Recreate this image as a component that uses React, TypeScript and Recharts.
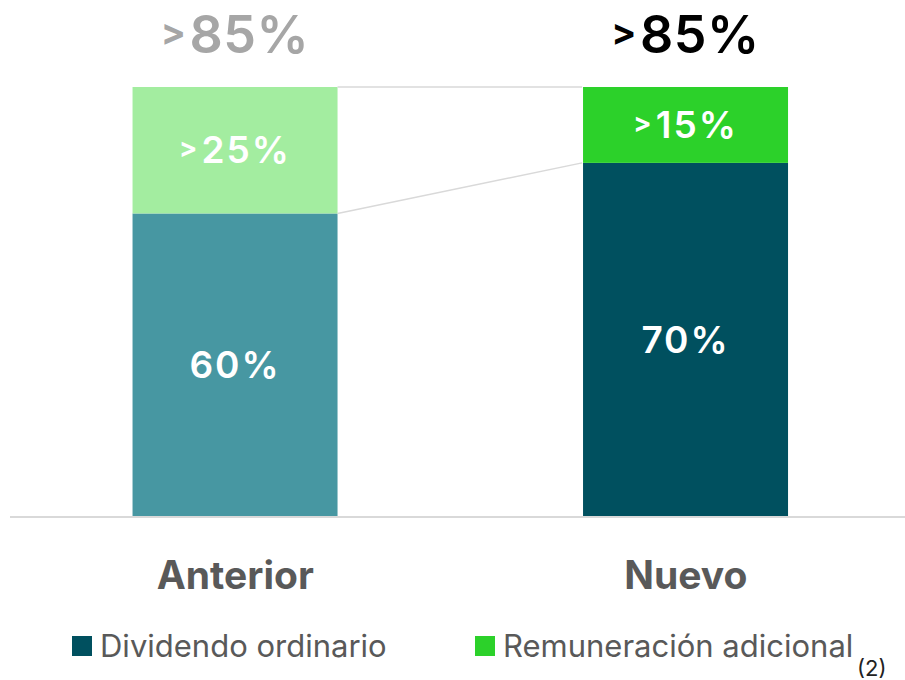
import React from 'react';
import { BarChart, Bar, XAxis, YAxis, Cell, LabelList, Legend } from 'recharts';

const categories = ['Anterior', 'Nuevo'];
const ordinario = [60, 70];
const adicional = [25, 15];
const ordinarioLabels = ['60%', '70%'];
const adicionalLabels = ['>25%', '>15%'];
const totalLabels = ['>85%', '>85%'];
const seriesNames = ['Dividendo ordinario', 'Remuneración adicional'];
const footnote = '(2)';

const ordinarioColors = ['#4797A2', '#00505F'];
const adicionalColors = ['#A3EDA0', '#2CD12A'];
const totalColors = ['#A6A6A6', '#000000'];
const legendColors = ['#00505F', '#2CD12A'];

const GAP = 0.272;
const FONT = 'Inter, "Noto Sans", sans-serif';

const data = categories.map((c, i) => ({
  category: c,
  ordinario: ordinario[i],
  adicional: adicional[i],
  ordLabel: ordinarioLabels[i],
  adiLabel: adicionalLabels[i],
  total: totalLabels[i],
}));

const pctText = (value: string, size: number) => {
  if (value.startsWith('>')) {
    const shift = Math.round(size * 0.16);
    return [
      <tspan key="a" fontSize={Math.round(size * 0.72)} fontWeight={700} dy={-shift}>{'>'}</tspan>,
      <tspan key="b" dy={shift} dx={size * 0.06}>{value.slice(1)}</tspan>,
    ];
  }
  return value;
};

const OrdinarioShape = (props: any) => {
  const { x, y, width, height, fill, index } = props;
  const band = width / (1 - 2 * GAP);
  let connector = null;
  if (index < ordinario.length - 1) {
    const ppu = height / ordinario[index];
    const base = y + height;
    const nextTop = base - ordinario[index + 1] * ppu;
    connector = (
      <line x1={x + width} y1={y} x2={x + band} y2={nextTop} stroke="#D9D9D9" strokeWidth={1.5} />
    );
  }
  return (
    <g>
      <rect x={x} y={y} width={width} height={height} fill={fill} />
      {connector}
    </g>
  );
};

const AdicionalShape = (props: any) => {
  const { x, y, width, height, fill, index } = props;
  const band = width / (1 - 2 * GAP);
  let connector = null;
  if (index < adicional.length - 1) {
    const ppu = height / adicional[index];
    const base = y + height + ordinario[index] * ppu;
    const nextTop = base - (ordinario[index + 1] + adicional[index + 1]) * ppu;
    connector = (
      <line x1={x + width} y1={y} x2={x + band} y2={nextTop} stroke="#D9D9D9" strokeWidth={1.5} />
    );
  }
  return (
    <g>
      <rect x={x} y={y} width={width} height={height} fill={fill} />
      {connector}
    </g>
  );
};

const InnerLabel = (props: any) => {
  const { x, y, width, height, value } = props;
  return (
    <text
      x={x + width / 2}
      y={y + height / 2 + 13}
      textAnchor="middle"
      fill="#FFFFFF"
      fontFamily={FONT}
      fontWeight={600}
      fontSize={37}
      letterSpacing={2}
    >
      {pctText(String(value), 37)}
    </text>
  );
};

const TotalLabel = (props: any) => {
  const { x, y, width, value, index } = props;
  return (
    <text
      x={x + width / 2}
      y={y - 34}
      textAnchor="middle"
      fill={totalColors[index]}
      fontFamily={FONT}
      fontWeight={600}
      fontSize={52}
      letterSpacing={0.5}
    >
      {pctText(String(value), 52)}
    </text>
  );
};

const CategoryTick = (props: any) => {
  const { x, y, payload } = props;
  return (
    <text
      x={x}
      y={y}
      dy={64}
      textAnchor="middle"
      fill="#595959"
      fontFamily={FONT}
      fontWeight={700}
      fontSize={39}
    >
      {payload.value}
    </text>
  );
};

const LegendContent = () => (
  <div style={{ position: 'relative', width: 905, height: 50, fontFamily: FONT }}>
    {seriesNames.map((name, i) => (
      <div
        key={name}
        style={{
          position: 'absolute',
          left: i === 0 ? 72 : 475,
          top: 0,
          display: 'flex',
          alignItems: 'center',
          height: 30,
          whiteSpace: 'nowrap',
        }}
      >
        <span style={{ display: 'inline-block', width: 20, height: 20, background: legendColors[i], marginRight: 8 }} />
        <span style={{ fontSize: 31, color: '#595959', fontWeight: 400, lineHeight: '30px' }}>{name}</span>
      </div>
    ))}
    <div style={{ position: 'absolute', left: 857, top: 26, fontSize: 22, lineHeight: '22px', color: '#222' }}>{footnote}</div>
  </div>
);

export default function App() {
  return (
    <div style={{ position: 'absolute', left: 0, top: 0, width: 905, height: 680, overflow: 'hidden', background: '#fff' }}>
      <BarChart
        width={911}
        height={680}
        data={data}
        margin={{ top: 87, right: 0, left: 10, bottom: 103 }}
        barCategoryGap={`${GAP * 100}%`}
      >
        <XAxis
          dataKey="category"
          axisLine={{ stroke: '#D9D9D9', strokeWidth: 2 }}
          tickLine={false}
          tick={<CategoryTick />}
          height={60}
          interval={0}
        />
        <YAxis hide domain={[0, 85]} />
        <Legend
          layout="horizontal"
          verticalAlign="middle"
          align="center"
          wrapperStyle={{ top: 631, left: 0, width: 905 }}
          content={<LegendContent />}
        />
        <Bar dataKey="ordinario" stackId="a" isAnimationActive={false} shape={<OrdinarioShape />}>
          {data.map((d, i) => (
            <Cell key={d.category} fill={ordinarioColors[i]} />
          ))}
          <LabelList dataKey="ordLabel" content={<InnerLabel />} />
        </Bar>
        <Bar dataKey="adicional" stackId="a" isAnimationActive={false} shape={<AdicionalShape />}>
          {data.map((d, i) => (
            <Cell key={d.category} fill={adicionalColors[i]} />
          ))}
          <LabelList dataKey="adiLabel" content={<InnerLabel />} />
          <LabelList dataKey="total" content={<TotalLabel />} />
        </Bar>
      </BarChart>
    </div>
  );
}
